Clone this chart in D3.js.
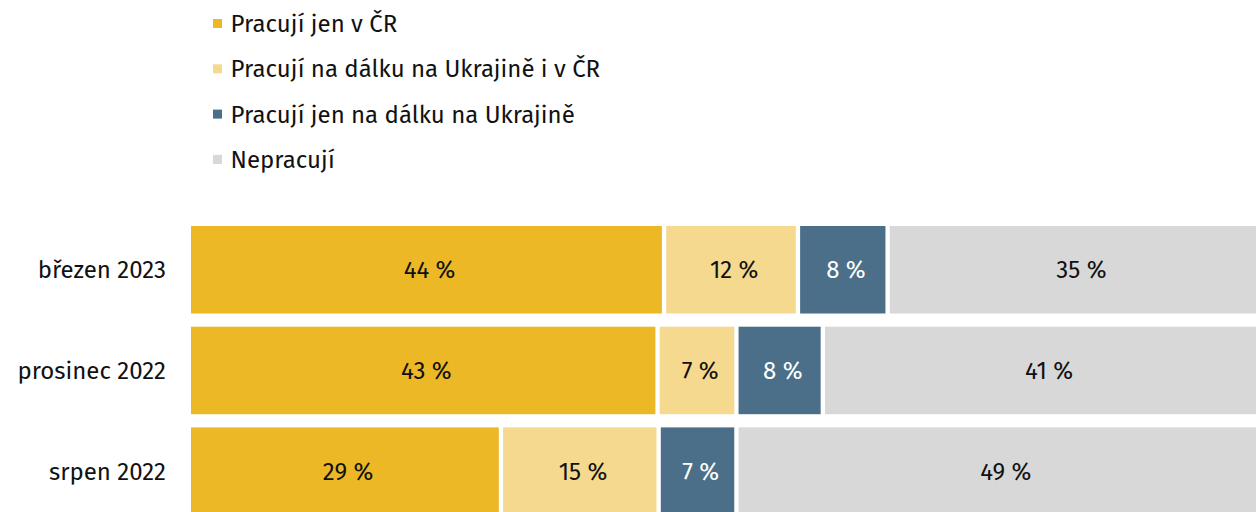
<!DOCTYPE html>
<html>
<head>
<meta charset="utf-8">
<script src="https://cdn.jsdelivr.net/npm/d3@7"></script>
<style>
  body { margin: 0; background: #fff; }
  svg { display: block; font-family: "Fira Sans", "Open Sans", sans-serif; }
</style>
</head>
<body>
<svg id="chart" width="1256" height="512"></svg>
<script>
// categories (top to bottom) and series
const periods = ["březen 2023", "prosinec 2022", "srpen 2022"];
const seriesNames = [
  "Pracují jen v ČR",
  "Pracují na dálku na Ukrajině i v ČR",
  "Pracují jen na dálku na Ukrajině",
  "Nepracují"
];
const colors = ["#ecb826", "#f4d98e", "#4b6f88", "#d8d8d8"];
const textColors = ["#111", "#111", "#fff", "#111"];

// shares in %, per series, in order of periods
const onlyCZ = [44.0, 43.4, 28.9];
const remoteAndCZ = [12.4, 7.3, 14.6];
const onlyRemoteUA = [8.3, 8.0, 7.2];
const notWorking = [35.3, 41.3, 49.3];
const seriesValues = [onlyCZ, remoteAndCZ, onlyRemoteUA, notWorking];

const svg = d3.select("#chart");
const fontSize = 24;
const gap = 4.3;

// stacked data
const rows = periods.map((p, i) => {
  let acc = 0;
  return {
    period: p,
    segs: seriesValues.map((vals, s) => {
      const seg = { s: s, start: acc, value: vals[i] };
      acc += vals[i];
      return seg;
    })
  };
});

const x = d3.scaleLinear().domain([0, 100]).range([191, 1271]);
const y = d3.scaleBand().domain(periods).range([226, 514.9]).paddingInner(0.131);

// legend
const legend = svg.append("g")
  .selectAll("g")
  .data(seriesNames)
  .join("g")
  .attr("transform", (d, i) => `translate(213, ${23.5 + i * 45.3})`);

legend.append("rect")
  .attr("x", 0).attr("y", -4.5)
  .attr("width", 9).attr("height", 9)
  .attr("fill", (d, i) => colors[i]);

legend.append("text")
  .attr("x", 17.5)
  .attr("dy", "0.35em")
  .style("font-size", fontSize + "px")
  .attr("fill", "#111")
  .text(d => d);

// category labels
svg.append("g")
  .selectAll("text")
  .data(periods)
  .join("text")
  .attr("x", 166)
  .attr("y", d => y(d) + y.bandwidth() / 2)
  .attr("dy", "0.35em")
  .attr("text-anchor", "end")
  .style("font-size", fontSize + "px")
  .attr("fill", "#111")
  .text(d => d);

// bars
const row = svg.append("g")
  .selectAll("g")
  .data(rows)
  .join("g")
  .attr("transform", d => `translate(0, ${y(d.period)})`);

row.selectAll("rect")
  .data(d => d.segs)
  .join("rect")
  .attr("x", d => x(d.start))
  .attr("y", 0)
  .attr("width", d => x(d.start + d.value) - x(d.start) - gap)
  .attr("height", y.bandwidth())
  .attr("fill", d => colors[d.s]);

row.selectAll("text")
  .data(d => d.segs)
  .join("text")
  .attr("x", d => (x(d.start) + x(d.start + d.value)) / 2 + 1)
  .attr("y", y.bandwidth() / 2)
  .attr("dy", "0.35em")
  .attr("text-anchor", "middle")
  .style("font-size", fontSize + "px")
  .attr("fill", d => textColors[d.s])
  .text(d => Math.round(d.value) + " %");
</script>
</body>
</html>
